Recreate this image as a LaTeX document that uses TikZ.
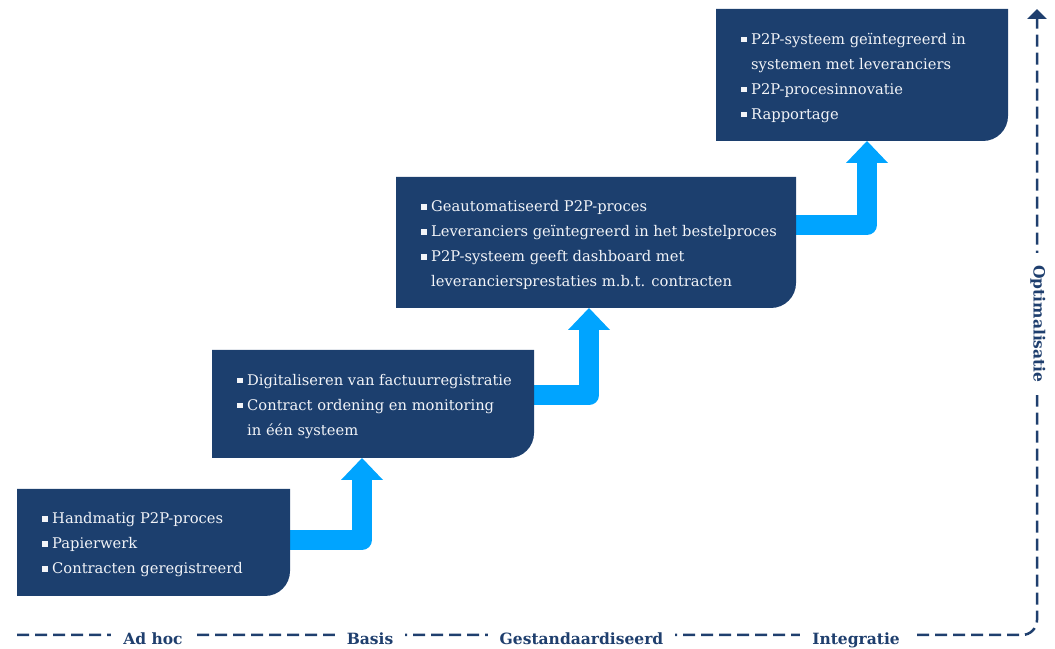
\documentclass[tikz,border=0pt]{standalone}
\usepackage{fontspec}
\setmainfont{DejaVu Serif}
\usetikzlibrary{arrows.meta,calc}
\definecolor{boxc}{HTML}{1C3F6E}
\definecolor{arrc}{HTML}{00A4FF}
\definecolor{axc}{HTML}{1F3F6E}
\definecolor{txc}{HTML}{F2F4F8}
\newcommand\bul{\makebox[10pt][l]{\rule[2pt]{5.5pt}{5.5pt}}}
\newcommand\ind{\hspace*{10pt}}
\newcommand\stepfill[1]{\fill[boxc] (#1.north west) -- (#1.north east) -- ([yshift=25pt]#1.south east) arc[start angle=0,end angle=-90,radius=25pt] -- (#1.south west) -- cycle;}
\begin{document}
\begin{tikzpicture}[x=1pt,y=1pt,
  stepbox/.style={anchor=north west, inner sep=0pt, outer sep=0pt},
  txt/.style={text=txc, align=left, inner sep=0pt, font=\fontsize{14.7}{25}\selectfont, anchor=west},
  conn/.style={draw=arrc, line width=20pt, line join=round, -{Triangle[width=42pt,length=22pt,line width=0pt]}},
  axis/.style={draw=axc, line width=2.5pt, dash pattern=on 12pt off 6pt, rounded corners=15pt},
  lab/.style={fill=white, text=axc, font=\fontsize{15.5}{18}\selectfont\bfseries, inner xsep=12pt, inner ysep=2pt}
]
\useasboundingbox (0,0) rectangle (1055,648);
% boxes (geometry)
\node[stepbox, minimum width=273pt, minimum height=107pt] (b1) at (17,159) {};
\node[stepbox, minimum width=322pt, minimum height=108pt] (b2) at (212,298) {};
\node[stepbox, minimum width=400pt, minimum height=131pt] (b3) at (396,471) {};
\node[stepbox, minimum width=292pt, minimum height=132pt] (b4) at (716,639) {};
% step arrows
\draw[conn] ([yshift=2.5pt]b1.east) -| ([xshift=150pt]b2.south west);
\draw[conn] ([yshift=8.5pt]b2.east) -| ([xshift=193pt]b3.south west);
\draw[conn] ([yshift=17.5pt]b3.east) -| ([xshift=151pt]b4.south west);
% box fills
\stepfill{b1}
\stepfill{b2}
\stepfill{b3}
\stepfill{b4}
% texts
\node[txt] (t1) at ([xshift=25pt,yshift=-2.5pt]b1.west) {\bul Handmatig P2P-proces\\ \bul Papierwerk\\ \bul Contracten geregistreerd};
\node[txt] (t2) at ([xshift=25pt,yshift=-2.5pt]b2.west) {\bul Digitaliseren van factuurregistratie\\ \bul Contract ordening en monitoring\\ \ind in één systeem};
\node[txt] (t3) at ([xshift=25pt,yshift=-2.5pt]b3.west) {\bul Geautomatiseerd P2P-proces\\ \bul Leveranciers geïntegreerd in het bestelproces\\ \bul P2P-systeem geeft dashboard met\\ \ind leveranciersprestaties m.b.t. contracten};
\node[txt] (t4) at ([xshift=25pt,yshift=-3pt]b4.west) {\bul P2P-systeem geïntegreerd in\\ \ind systemen met leveranciers\\ \bul P2P-procesinnovatie\\ \bul Rapportage};
% axis
\coordinate (ax0) at (17,13);
\coordinate (ax1) at (1037,13);
\coordinate (ax2) at (1037,639);
\draw[axis, -{Triangle[width=19pt,length=10pt]}] (ax0) -- (ax1) -- (ax2);
\node[lab, anchor=base] (l1) at (153,3) {Ad hoc};
\node[lab, anchor=base] (l2) at (370,3) {Basis};
\node[lab, anchor=base] (l3) at (581.5,3) {Gestandaardiseerd};
\node[lab, anchor=base] (l4) at (856,3) {Integratie};
\node[lab, rotate=-90] (l5) at (1038,324) {Optimalisatie};
\end{tikzpicture}
\end{document}
